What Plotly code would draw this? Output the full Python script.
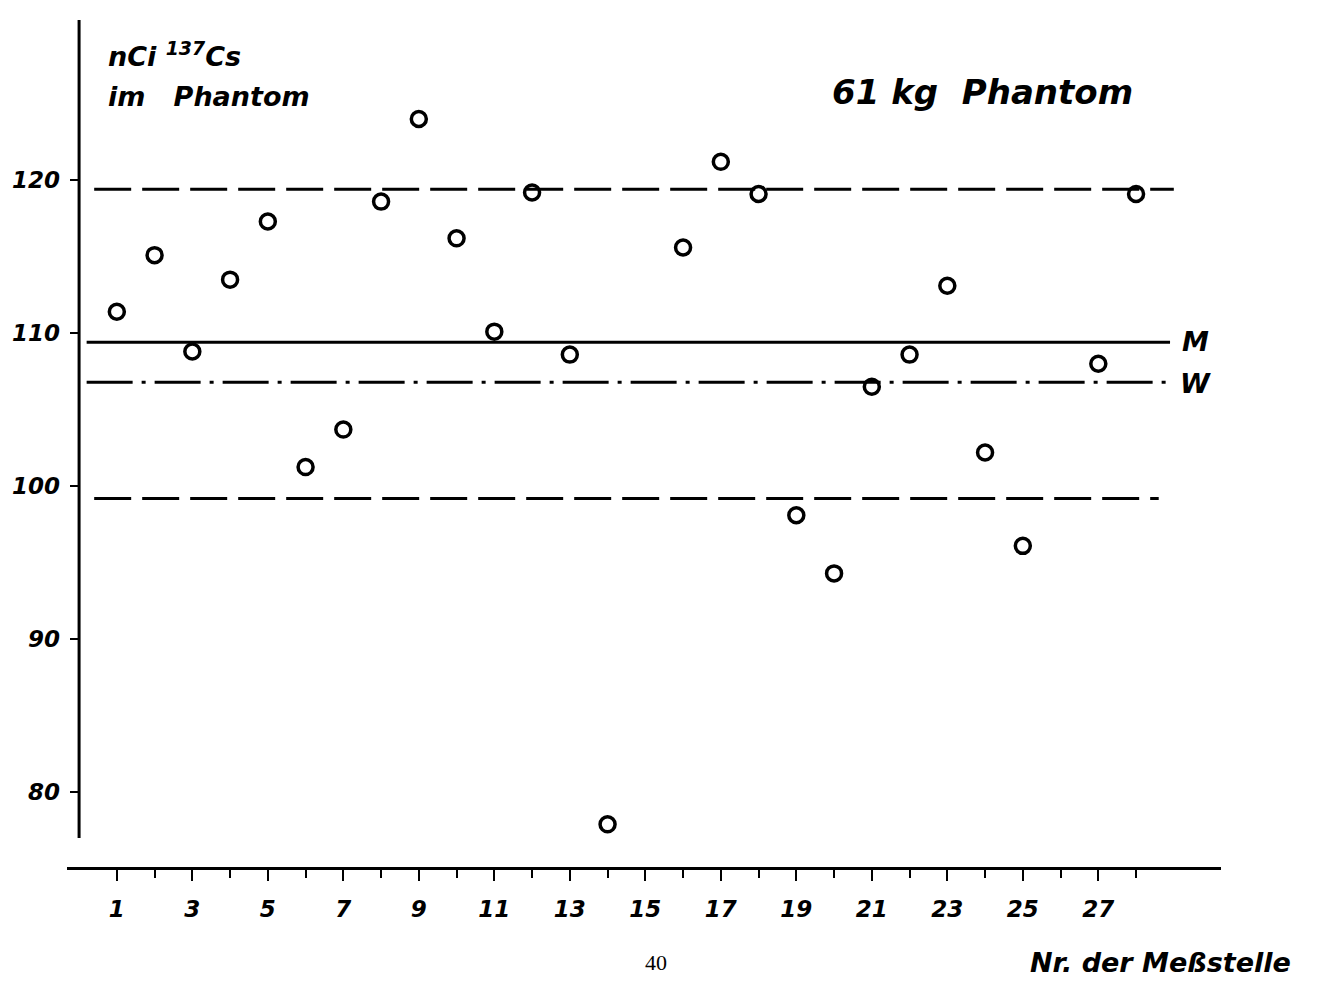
import plotly.graph_objects as go

# ---- data ----
messstelle = [1, 2, 3, 4, 5, 6, 7, 8, 9, 10, 11, 12, 13, 14,
              16, 17, 18, 19, 20, 21, 22, 23, 24, 25, 27, 28]
nci_cs137 = [111.4, 115.1, 108.8, 113.5, 117.3, 101.25, 103.7, 118.6, 124.0, 116.2,
             110.1, 119.2, 108.6, 77.9,
             115.6, 121.2, 119.1, 98.1, 94.3, 106.5, 108.6, 113.1, 102.2, 96.1,
             108.0, 119.1]
mittelwert_M = 109.4
wert_W = 106.8
grenze_oben = 119.4
grenze_unten = 99.2
line_x = [0.2, 28.9]
x_tick_major = list(range(1, 28, 2))
x_tick_minor = list(range(2, 29, 2))
y_ticks = [80, 90, 100, 110, 120]

# ---- layout geometry (pixels) ----
W, H = 1332, 1000
L, R, T, B = 67, 1221, 20, 867
XR = [-0.32, 30.25]
YR = [75.11, 130.47]

def px(xp):
    return (xp - L) / (R - L)

def py(yp):
    return (B - yp) / (B - T)

FONT = "DejaVu Sans"
lab = dict(family=FONT, size=23, color="black", weight="bold", style="italic")

fig = go.Figure()

# reference lines
fig.add_trace(go.Scatter(x=[0.4, 29.0], y=[grenze_oben] * 2, mode="lines",
                         line=dict(color="black", width=3, dash="37px,11px"),
                         showlegend=False, hoverinfo="skip"))
fig.add_trace(go.Scatter(x=line_x, y=[mittelwert_M] * 2, mode="lines",
                         line=dict(color="black", width=3),
                         showlegend=False, hoverinfo="skip"))
fig.add_trace(go.Scatter(x=line_x, y=[wert_W] * 2, mode="lines",
                         line=dict(color="black", width=3, dash="46px,9px,4px,9px"),
                         showlegend=False, hoverinfo="skip"))
fig.add_trace(go.Scatter(x=[0.4, 28.6], y=[grenze_unten] * 2, mode="lines",
                         line=dict(color="black", width=3, dash="37px,11px"),
                         showlegend=False, hoverinfo="skip"))

# data points
fig.add_trace(go.Scatter(x=messstelle, y=nci_cs137, mode="markers",
                         marker=dict(symbol="circle-open", size=15, color="black",
                                     line=dict(width=3.5, color="black")),
                         showlegend=False, cliponaxis=False))

# y-axis line (shorter than plot area)
fig.add_shape(type="line", xref="x", yref="y", x0=0, x1=0, y0=77.0, y1=YR[1],
              line=dict(color="black", width=3))

fig.update_layout(
    width=W, height=H,
    margin=dict(l=L, r=W - R, t=T, b=H - B),
    paper_bgcolor="white", plot_bgcolor="white",
    xaxis=dict(range=XR, showgrid=False, zeroline=False,
               showline=True, linecolor="black", linewidth=3,
               ticks="outside", ticklen=11, tickwidth=2, tickcolor="black",
               tickmode="array", tickvals=x_tick_major,
               ticktext=[str(v) for v in x_tick_major],
               tickfont=lab, ticklabelstandoff=8,
               minor=dict(tickmode="array", tickvals=x_tick_minor, ticks="outside",
                          ticklen=8, tickwidth=2, tickcolor="black", showgrid=False)),
    yaxis=dict(range=YR, showgrid=False, zeroline=False, showline=False,
               anchor="free", position=px(79.5),
               ticks="outside", ticklen=10, tickwidth=2, tickcolor="black",
               tickmode="array", tickvals=y_ticks,
               ticktext=[str(v) for v in y_ticks],
               tickfont=lab, ticklabelstandoff=5),
)

def ann(text, xp, yp, size, xanchor="left", family=FONT, bold=True, italic=True):
    fig.add_annotation(text=text, xref="paper", yref="paper", x=px(xp), y=py(yp),
                       xanchor=xanchor, yanchor="middle", showarrow=False,
                       font=dict(family=family, size=size, color="black",
                                 weight="bold" if bold else "normal",
                                 style="italic" if italic else "normal"))

ann("nCi <sup>137</sup>Cs", 106, 55, 27)
ann("im   Phantom", 106, 96, 27)
ann("61 kg  Phantom", 830, 92, 34)
ann("M", 1180, 342, 27)
ann("W", 1178, 383, 27)
ann("Nr. der Meßstelle", 1028, 962, 27)
ann("40", 656, 962, 22, xanchor="center", family="Liberation Serif", bold=False, italic=False)

fig.write_html("out.html")
